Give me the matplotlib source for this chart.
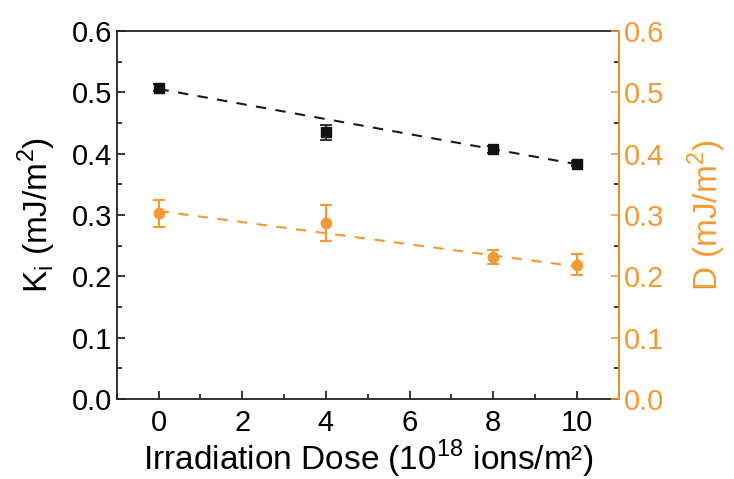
import numpy as np
import matplotlib
matplotlib.use('Agg')
import matplotlib.pyplot as plt
from matplotlib.ticker import MultipleLocator

plt.rcParams['font.family'] = ['Liberation Sans', 'DejaVu Sans']

dose = np.array([0, 4, 8, 10])
ki = np.array([0.508, 0.435, 0.407, 0.384])
ki_err = np.array([0.005, 0.012, 0.006, 0.004])
d_val = np.array([0.303, 0.287, 0.2315, 0.219])
d_err = np.array([0.022, 0.029, 0.011, 0.017])

orange = '#F39A33'

fig = plt.figure(figsize=(7.34, 4.79), dpi=100)
ax = fig.add_axes([0.159, 0.167, 0.684, 0.768])
ax2 = ax.twinx()

# linear fits (weighted by error bars)
xf = np.array([dose.min(), dose.max()])
pk = np.polyfit(dose, ki, 1, w=1 / ki_err)
pd_ = np.polyfit(dose, d_val, 1, w=1 / d_err)
ax.plot(xf, np.polyval(pk, xf), color='#1a1a1a', ls=(0, (5, 4.5)), lw=1.5)
ax2.plot(xf, np.polyval(pd_, xf), color=orange, ls=(0, (5, 4.5)), lw=1.5)

ax.errorbar(dose, ki, yerr=ki_err, fmt='s', color='#111111', ms=6.5,
            capsize=4, elinewidth=1.2, capthick=1.2)
ax2.errorbar(dose, d_val, yerr=d_err, fmt='o', color=orange, ms=7.5,
             capsize=4.5, elinewidth=1.5, capthick=1.5)

for a in (ax, ax2):
    a.set_xlim(-1, 11)
    a.set_ylim(0, 0.6)
    a.yaxis.set_major_locator(MultipleLocator(0.1))
    a.yaxis.set_minor_locator(MultipleLocator(0.05))
    a.tick_params(which='both', direction='in', labelsize=21, width=1.1)
    a.tick_params(which='major', length=6)
    a.tick_params(which='minor', length=3.5)

ax.xaxis.set_major_locator(MultipleLocator(2))
ax.xaxis.set_minor_locator(MultipleLocator(1))
ax.tick_params(top=False, which='both')
ax.yaxis.set_major_formatter(plt.FormatStrFormatter('%.1f'))
ax2.yaxis.set_major_formatter(plt.FormatStrFormatter('%.1f'))
ax.tick_params(axis='x', pad=7)

for s in ax.spines.values():
    s.set_linewidth(1.3)
    s.set_color('#222222')
ax2.spines['right'].set_color(orange)
ax2.spines['right'].set_linewidth(1.3)
for s in ('left', 'top', 'bottom'):
    ax2.spines[s].set_visible(False)
ax2.tick_params(axis='y', colors=orange, labelcolor=orange)

ax.set_ylabel('K$_\\mathregular{i}$ (mJ/m$^\\mathregular{2}$)', fontsize=24, labelpad=10)
ax2.set_ylabel('D (mJ/m$^\\mathregular{2}$)', fontsize=24, color=orange, labelpad=16)
ax.set_xlabel('Irradiation Dose (10$^\\mathregular{18}$ ions/m²)', fontsize=24, labelpad=1)

fig.savefig('out.png', dpi=100, facecolor='white')
